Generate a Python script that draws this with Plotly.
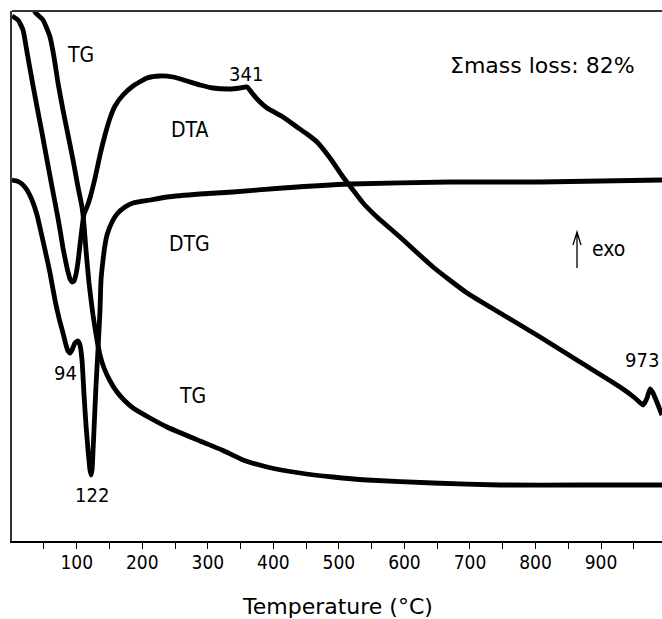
import plotly.graph_objects as go

# ---- data (temperature in °C, signal in arbitrary units) ----
dta_T = [1.2, 10.4, 18.0, 24.1, 31.7, 39.4, 47.0, 54.6, 62.3, 69.9, 74.5, 79.0, 83.6, 86.7,
         89.7, 92.8, 95.8, 98.9, 101.9, 104.9, 108.0, 111.1, 115.6, 120.2, 127.9, 135.5,
         143.1, 150.8, 158.4, 170.6, 185.9, 207.2, 227.0, 246.9, 268.2, 288.1, 307.9, 333.8,
         349.1, 359.8, 367.4, 376.5, 390.3, 414.7, 436.1, 451.3, 466.6, 486.4, 506.3, 516.9,
         536.8, 558.1, 593.2, 643.6, 695.5, 745.9, 806.9, 867.9, 929.0, 951.8, 964.1, 970.2,
         974.7, 979.3, 983.9, 993.0]
dta_v = [105.0, 104.2, 102.2, 97.8, 92.2, 86.8, 81.6, 76.2, 70.8, 65.6, 62.2, 58.6, 55.6, 53.8,
         52.4, 51.8, 52.0, 53.4, 55.8, 59.2, 62.6, 65.4, 66.8, 68.6, 72.6, 77.2,
         81.2, 84.6, 87.0, 89.2, 91.0, 92.6, 93.0, 92.8, 92.0, 91.2, 90.6, 90.4,
         90.6, 90.8, 89.6, 88.2, 86.6, 84.8, 82.8, 81.4, 79.8, 76.6, 72.8, 71.0,
         67.6, 64.8, 60.8, 54.8, 49.6, 45.6, 40.8, 35.8, 30.8, 28.6, 27.2, 28.6,
         30.4, 29.6, 28.2, 25.2]

tg_T = [30.2, 36.3, 48.5, 59.2, 65.3, 71.4, 79.0, 86.7, 94.3, 101.9, 108.0, 111.1, 114.1,
        118.7, 124.8, 130.9, 135.5, 141.6, 150.8, 161.4, 173.6, 185.9, 211.8, 237.7, 288.1,
        321.6, 353.7, 390.3, 440.7, 491.0, 542.9, 643.6, 745.9, 867.9, 993.0]
tg_v = [108.2, 105.8, 104.2, 100.8, 96.8, 91.6, 86.2, 81.2, 76.2, 70.8, 66.8, 63.2, 58.2,
        51.6, 45.2, 40.2, 37.2, 34.6, 32.0, 29.8, 28.0, 26.6, 24.6, 22.8, 20.0,
        18.2, 16.2, 14.8, 13.6, 12.8, 12.2, 11.6, 11.2, 11.2, 11.2]

dtg_T = [1.2, 8.8, 16.5, 24.1, 31.7, 39.4, 45.4, 51.6, 59.2, 66.8, 72.9, 79.0, 83.6, 86.7,
         89.7, 92.8, 97.3, 101.9, 104.9, 108.0, 111.1, 114.1, 117.2, 120.2, 121.8, 123.3,
         126.3, 129.4, 132.4, 135.5, 137.0, 140.1, 143.1, 146.2, 153.8, 161.4, 173.6, 185.9,
         211.8, 237.7, 288.1, 338.5, 414.7, 516.9, 669.5, 806.9, 993.0]
dtg_v = [72.2, 72.0, 71.4, 70.2, 68.2, 65.2, 61.8, 58.2, 53.6, 48.2, 44.6, 41.6, 39.2, 38.0,
         37.6, 38.2, 39.6, 40.0, 39.2, 36.2, 29.2, 23.2, 18.2, 14.2, 13.2, 14.2,
         22.2, 31.2, 38.2, 46.2, 52.2, 56.2, 59.2, 61.2, 63.8, 65.4, 66.8, 67.6,
         68.2, 68.8, 69.4, 69.8, 70.6, 71.4, 71.8, 71.8, 72.2]

tick_vals = [100, 200, 300, 400, 500, 600, 700, 800, 900]
tick_text = ["100", "200", "300", "400", "500", "600", "700", "800", "900"]

fig = go.Figure()
line_style = dict(color="black", width=4.8, shape="spline", smoothing=0.5)
for name, xs, ys in [("DTA", dta_T, dta_v), ("TG", tg_T, tg_v), ("DTG", dtg_T, dtg_v)]:
    fig.add_trace(go.Scatter(x=xs, y=ys, mode="lines", name=name, line=line_style,
                             showlegend=False, hoverinfo="skip"))

lab = dict(family="DejaVu Sans Condensed", size=21, color="black")
num = dict(family="DejaVu Sans Condensed", size=20, color="black")
ann = [
    dict(x=105.0, y=97.2, text="TG", font=lab),
    dict(x=271.3, y=82.2, text="DTA", font=lab),
    dict(x=358.3, y=93.4, text="341", font=num),
    dict(x=271.3, y=59.5, text="DTG", font=lab),
    dict(x=82.9, y=33.7, text="94", font=num),
    dict(x=124.0, y=9.2, text="122", font=num),
    dict(x=276.9, y=29.1, text="TG", font=lab),
    dict(x=962.5, y=36.2, text="973", font=num),
    dict(x=809.9, y=95.1, text="\u03a3mass loss: 82%", font=dict(family="DejaVu Sans", size=22, color="black")),
    dict(x=910.6, y=58.4, text="exo", font=dict(family="DejaVu Sans Condensed", size=21, color="black")),
    dict(x=0.5, y=-0.1245, xref="paper", yref="paper", text="Temperature (\u00b0C)",
         font=dict(family="DejaVu Sans", size=22, color="black")),
]
for a in ann:
    a.setdefault("xref", "x")
    a.setdefault("yref", "y")
    a.update(showarrow=False, xanchor="center", yanchor="middle")
    fig.add_annotation(**a)

fig.add_shape(type="path", xref="x", yref="y",
              path="M 863.3,54.6 L 863.3,61.8 M 857.2,59.2 L 863.3,61.8 L 869.4,59.2",
              line=dict(color="black", width=1.3))
fig.add_shape(type="line", xref="paper", yref="paper", x0=0, x1=1, y0=1, y1=1,
              line=dict(color="#333333", width=2))

fig.update_layout(
    width=662, height=619,
    margin=dict(l=12, r=0, t=11, b=78),
    paper_bgcolor="white", plot_bgcolor="white",
    xaxis=dict(range=[1.2, 993], showgrid=False, zeroline=False, showline=True,
               linecolor="black", linewidth=2, ticks="outside", ticklen=6, tickwidth=1.3,
               tickcolor="black", tickmode="array", tickvals=tick_vals, ticktext=tick_text,
               ticklabelstandoff=-3,
               tickfont=dict(family="DejaVu Sans Condensed", size=19, color="black"),
               minor=dict(tickmode="linear", tick0=0, dtick=50, ticks="outside",
                          ticklen=6, tickwidth=1.3, tickcolor="black", showgrid=False)),
    yaxis=dict(range=[0, 106], showgrid=False, zeroline=False, showline=True,
               linecolor="#333333", linewidth=2, showticklabels=False, ticks=""),
)

fig.write_html("out.html")
